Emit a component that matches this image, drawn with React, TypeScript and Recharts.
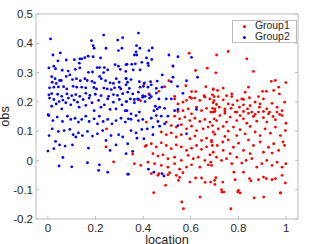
import { ScatterChart, Scatter, XAxis, YAxis, Legend } from 'recharts';

// Group1 (red) points, [location, obs]
const group1: [number, number][] = [
  [0.593, 0.366], [0.525, 0.321], [0.669, 0.315], [0.62, 0.307], [0.403, 0.261], [0.508, 0.272],
  [0.49, 0.252], [0.579, 0.255], [0.663, 0.252], [0.466, 0.236], [0.603, 0.235], [0.694, 0.244],
  [0.621, 0.235], [0.532, 0.219], [0.656, 0.221], [0.698, 0.218], [0.603, 0.212], [0.424, 0.227],
  [0.389, 0.204], [0.246, 0.108], [0.244, 0.046], [0.276, -0.005], [0.356, 0.022], [0.363, -0.011],
  [0.39, -0.017], [0.408, 0.048], [0.413, 0.131],
  // middle block
  [0.532, 0.21], [0.546, 0.193], [0.567, 0.199], [0.582, 0.205], [0.596, 0.216], [0.617, 0.213],
  [0.638, 0.205], [0.659, 0.216], [0.68, 0.21], [0.694, 0.197],
  [0.546, 0.167], [0.567, 0.17], [0.589, 0.176], [0.603, 0.159], [0.624, 0.182], [0.645, 0.17],
  [0.666, 0.178], [0.684, 0.165], [0.701, 0.176],
  [0.532, 0.151], [0.553, 0.142], [0.575, 0.148], [0.596, 0.136], [0.617, 0.144], [0.638, 0.133],
  [0.659, 0.14], [0.68, 0.131], [0.698, 0.142],
  [0.497, 0.131], [0.518, 0.119], [0.539, 0.114], [0.56, 0.122], [0.582, 0.108], [0.603, 0.117],
  [0.624, 0.102], [0.652, 0.108], [0.673, 0.114], [0.694, 0.097],
  [0.476, 0.097], [0.497, 0.088], [0.518, 0.094], [0.539, 0.08], [0.56, 0.088], [0.596, 0.074],
  [0.617, 0.083], [0.645, 0.068], [0.666, 0.076], [0.687, 0.063],
  [0.413, 0.051], [0.434, 0.057], [0.455, 0.046], [0.476, 0.06], [0.497, 0.051], [0.518, 0.04],
  [0.539, 0.053], [0.56, 0.046], [0.582, 0.034], [0.603, 0.042], [0.624, 0.051], [0.645, 0.038],
  [0.666, 0.046], [0.69, 0.051],
  [0.441, 0.023], [0.462, 0.015], [0.483, 0.019], [0.504, 0.006], [0.532, 0.011], [0.56, 0.0],
  [0.589, 0.017], [0.61, 0.006], [0.631, 0.011], [0.659, 0.0], [0.68, 0.019],
  [0.42, -0.006], [0.448, -0.011], [0.476, -0.017], [0.504, -0.023], [0.532, -0.011], [0.553, -0.03],
  [0.582, -0.023], [0.603, -0.015], [0.638, -0.023], [0.673, -0.015],
  [0.434, -0.045], [0.462, -0.051], [0.504, -0.049], [0.539, -0.051], [0.567, -0.042], [0.645, -0.06],
  [0.553, -0.058], [0.548, -0.068], [0.62, -0.06], [0.66, -0.075], [0.7, -0.068],
  // upper right
  [0.708, 0.36], [0.757, 0.372], [0.835, 0.347], [0.705, 0.299], [0.863, 0.304], [0.938, 0.27],
  [0.955, 0.273], [0.999, 0.266], [0.969, 0.25], [0.842, 0.25], [0.736, 0.247], [0.694, 0.242],
  [0.712, 0.239], [0.901, 0.236], [0.917, 0.236], [0.948, 0.239], [0.828, 0.233], [0.772, 0.227],
  [0.691, 0.224], [0.715, 0.218], [0.75, 0.221], [0.772, 0.218], [0.972, 0.227], [0.884, 0.218],
  [0.846, 0.214], [0.814, 0.21], [0.821, 0.208], [0.905, 0.21], [0.736, 0.207], [0.697, 0.204],
  [0.795, 0.204], [0.994, 0.199], [0.941, 0.195], [0.87, 0.199], [0.891, 0.193], [0.708, 0.191],
  [0.757, 0.193], [0.776, 0.19], [0.821, 0.19], [0.849, 0.187], [0.691, 0.178], [0.719, 0.182],
  [0.743, 0.176], [0.769, 0.178], [0.804, 0.182], [0.838, 0.176], [0.888, 0.182], [0.919, 0.176],
  [0.962, 0.182], [0.983, 0.17], [0.701, 0.167], [0.743, 0.167], [0.793, 0.165], [0.821, 0.167],
  [0.856, 0.165], [0.905, 0.167], [0.931, 0.165], [0.973, 0.157], [0.87, 0.157],
  // lower right
  [0.694, 0.165], [0.722, 0.153], [0.743, 0.161], [0.765, 0.148], [0.786, 0.165], [0.807, 0.153],
  [0.821, 0.142], [0.842, 0.161], [0.863, 0.15], [0.884, 0.165], [0.905, 0.146], [0.926, 0.159],
  [0.945, 0.15], [0.962, 0.165], [0.983, 0.153], [0.999, 0.127], [0.708, 0.136], [0.75, 0.131],
  [0.793, 0.136], [0.835, 0.127], [0.877, 0.134], [0.919, 0.131], [0.955, 0.139],
  [0.691, 0.119], [0.715, 0.108], [0.736, 0.116], [0.757, 0.1], [0.779, 0.114], [0.807, 0.105],
  [0.828, 0.091], [0.849, 0.116], [0.87, 0.097], [0.891, 0.085], [0.912, 0.108], [0.934, 0.093],
  [0.955, 0.114], [0.976, 0.085], [0.997, 0.102], [0.701, 0.089], [0.743, 0.082], [0.793, 0.085],
  [0.687, 0.068], [0.711, 0.051], [0.734, 0.063], [0.757, 0.07], [0.779, 0.045], [0.8, 0.059],
  [0.821, 0.034], [0.842, 0.07], [0.863, 0.051], [0.891, 0.063], [0.905, 0.028], [0.926, 0.045],
  [0.948, 0.057], [0.969, 0.034], [0.987, 0.063], [0.993, 0.051], [0.694, 0.028], [0.736, 0.034],
  [0.765, 0.023], [0.849, 0.023], [0.941, 0.025],
  [0.684, -0.006], [0.708, 0.011], [0.729, 0.0], [0.75, 0.006], [0.772, -0.011], [0.793, 0.011],
  [0.814, -0.009], [0.832, 0.0], [0.856, 0.006], [0.877, -0.023], [0.898, -0.011], [0.919, 0.0],
  [0.941, -0.017], [0.962, -0.006], [0.983, -0.023], [0.687, -0.017], [0.999, -0.011],
  [0.705, -0.059], [0.701, -0.082], [0.734, -0.074], [0.781, -0.04], [0.786, -0.066], [0.821, -0.04],
  [0.846, -0.062], [0.852, -0.07], [0.884, -0.066], [0.905, -0.057], [0.917, -0.062], [0.941, -0.066],
  [0.955, -0.062], [0.983, -0.051], [0.997, -0.077], [0.729, -0.1], [0.739, -0.108], [0.8, -0.102],
  [0.807, -0.111], [0.976, -0.111],
  // outliers
  [0.444, -0.11], [0.562, -0.142], [0.569, -0.165], [0.639, -0.125], [0.768, -0.165], [0.866, -0.128],
  [0.906, -0.125], [0.977, -0.111], [0.797, -0.108], [0.73, -0.108], [0.683, -0.074], [0.596, -0.074],
  [0.494, -0.085], [0.466, -0.045], [0.511, -0.042],
];

// Group2 (blue) points, [location, obs]
const group2: [number, number][] = [
  [0.011, 0.415], [0.234, 0.428], [0.183, 0.409], [0.19, 0.392], [0.194, 0.383], [0.293, 0.411],
  [0.314, 0.419], [0.244, 0.383], [0.296, 0.375], [0.311, 0.383], [0.021, 0.36], [0.052, 0.367],
  [0.042, 0.34], [0.077, 0.343], [0.111, 0.344], [0.134, 0.347], [0.142, 0.347], [0.155, 0.351],
  [0.169, 0.356], [0.19, 0.354], [0.221, 0.35], [0.004, 0.316], [0.025, 0.322], [0.032, 0.313],
  [0.06, 0.308], [0.085, 0.305], [0.115, 0.311], [0.132, 0.332], [0.134, 0.316], [0.17, 0.301],
  [0.187, 0.302], [0.207, 0.317], [0.217, 0.317], [0.237, 0.317], [0.251, 0.309], [0.234, 0.3],
  [0.282, 0.327], [0.296, 0.322], [0.304, 0.311], [0.328, 0.327], [0.016, 0.286], [0.03, 0.279],
  [0.018, 0.267], [0.035, 0.263], [0.049, 0.273], [0.056, 0.273], [0.077, 0.287], [0.092, 0.292],
  [0.103, 0.276], [0.12, 0.279], [0.136, 0.272], [0.155, 0.279], [0.165, 0.273], [0.185, 0.27],
  [0.196, 0.265], [0.217, 0.287], [0.224, 0.279], [0.242, 0.272], [0.261, 0.265], [0.275, 0.263],
  [0.287, 0.279], [0.299, 0.267], [0.328, 0.279], [0.334, 0.267], [0.007, 0.248], [0.025, 0.25],
  [0.044, 0.251], [0.066, 0.252], [0.079, 0.244], [0.106, 0.253], [0.121, 0.25], [0.142, 0.25],
  [0.159, 0.248], [0.193, 0.249], [0.204, 0.244], [0.235, 0.247], [0.249, 0.244], [0.266, 0.242],
  [0.28, 0.248], [0.3, 0.25], [0.306, 0.244], [0.004, 0.224], [0.016, 0.228], [0.041, 0.226],
  [0.058, 0.219], [0.08, 0.227], [0.1, 0.221], [0.117, 0.225], [0.134, 0.219], [0.159, 0.229],
  [0.176, 0.222], [0.199, 0.226], [0.223, 0.221], [0.255, 0.219], [0.275, 0.225], [0.292, 0.222],
  [0.314, 0.228],
  [0.007, 0.213], [0.025, 0.208], [0.016, 0.185], [0.035, 0.193], [0.047, 0.201], [0.063, 0.206],
  [0.075, 0.197], [0.058, 0.176], [0.086, 0.213], [0.096, 0.19], [0.11, 0.206], [0.124, 0.199],
  [0.131, 0.182], [0.148, 0.208], [0.159, 0.188], [0.173, 0.213], [0.185, 0.197], [0.194, 0.17],
  [0.213, 0.205], [0.223, 0.182], [0.237, 0.19], [0.251, 0.21], [0.261, 0.174], [0.275, 0.199],
  [0.286, 0.176], [0.3, 0.208], [0.311, 0.19], [0.325, 0.17], [0.331, 0.201],
  [0.001, 0.156], [0.021, 0.136], [0.039, 0.148], [0.061, 0.133], [0.082, 0.151], [0.096, 0.14],
  [0.114, 0.144], [0.128, 0.131], [0.142, 0.14], [0.159, 0.151], [0.173, 0.133], [0.194, 0.142],
  [0.208, 0.125], [0.216, 0.151], [0.232, 0.133], [0.251, 0.14], [0.269, 0.125], [0.286, 0.136],
  [0.307, 0.144], [0.325, 0.131],
  [0.018, 0.108], [0.044, 0.099], [0.068, 0.102], [0.092, 0.106], [0.106, 0.088], [0.117, 0.08],
  [0.128, 0.094], [0.145, 0.085], [0.166, 0.099], [0.187, 0.083], [0.208, 0.091], [0.23, 0.102],
  [0.265, 0.085], [0.297, 0.088], [0.314, 0.08], [0.244, 0.068],
  [0.032, 0.065], [0.025, 0.04], [0.049, 0.053], [0.072, 0.049], [0.103, 0.053], [0.17, 0.042],
  [0.261, 0.034], [0.286, 0.053], [0.335, 0.057],
  [0.063, 0.01], [0.047, -0.019], [0.1, -0.022], [0.166, -0.008], [0.216, -0.015], [0.213, -0.034],
  [0.251, -0.04], [0.335, -0.047], [0.0, 0.032], [0.005, 0.085], [0.004, 0.153],
  [0.38, 0.435], [0.372, 0.392], [0.386, 0.383], [0.37, 0.371], [0.438, 0.384], [0.424, 0.375],
  [0.373, 0.36], [0.363, 0.36], [0.414, 0.35], [0.436, 0.345], [0.332, 0.328], [0.352, 0.328],
  [0.367, 0.33], [0.394, 0.335], [0.42, 0.332], [0.422, 0.324], [0.358, 0.309], [0.327, 0.304],
  [0.387, 0.309], [0.508, 0.36], [0.546, 0.354], [0.603, 0.352], [0.525, 0.323], [0.48, 0.292],
  [0.525, 0.284], [0.328, 0.28], [0.349, 0.276], [0.384, 0.269], [0.405, 0.265], [0.431, 0.269],
  [0.459, 0.271], [0.518, 0.269], [0.582, 0.272], [0.628, 0.284], [0.328, 0.258], [0.342, 0.246],
  [0.387, 0.25], [0.401, 0.253], [0.42, 0.25], [0.434, 0.258], [0.455, 0.246], [0.479, 0.25],
  [0.544, 0.253], [0.335, 0.233], [0.356, 0.227], [0.38, 0.233], [0.398, 0.221], [0.408, 0.219],
  [0.427, 0.224], [0.434, 0.218], [0.455, 0.23], [0.497, 0.21], [0.466, 0.21], [0.518, 0.21],
  [0.567, 0.229], [0.377, 0.21], [0.363, 0.208],
  [0.328, 0.201], [0.346, 0.21], [0.363, 0.197], [0.38, 0.208], [0.398, 0.216], [0.408, 0.201],
  [0.427, 0.213], [0.451, 0.185], [0.459, 0.176], [0.469, 0.182], [0.49, 0.178], [0.445, 0.17],
  [0.332, 0.17], [0.349, 0.159], [0.37, 0.153], [0.384, 0.165], [0.398, 0.14], [0.38, 0.136],
  [0.349, 0.14], [0.338, 0.142], [0.434, 0.144], [0.455, 0.153], [0.476, 0.151], [0.504, 0.151],
  [0.532, 0.17], [0.546, 0.174], [0.349, 0.102], [0.37, 0.094], [0.394, 0.106], [0.417, 0.108],
  [0.441, 0.114], [0.469, 0.117], [0.49, 0.125], [0.462, 0.133], [0.374, 0.076], [0.403, 0.074],
  [0.441, 0.088], [0.546, 0.119], [0.582, 0.091], [0.624, 0.174], [0.328, 0.023], [0.356, 0.031],
  [0.338, -0.047], [0.422, -0.03], [0.445, -0.04], [0.479, -0.045], [0.487, -0.053],
];

const seriesNames = ['Group1', 'Group2'];
const seriesColors = ['#ff0000', '#0000ff'];
const xTicks = [0, 0.2, 0.4, 0.6, 0.8, 1];
const yTicks = [-0.2, -0.1, 0, 0.1, 0.2, 0.3, 0.4, 0.5];

const FONT = '"Liberation Sans", Arial, Helvetica, sans-serif';
const AXIS = '#bcbcbc';
const TEXT = '#262626';

const toPoints = (arr: [number, number][]) => arr.map(([x, y]) => ({ x, y }));

const Dot = (props: any) => <circle cx={props.cx} cy={props.cy} r={1.4} fill={props.fill} />;
const NoTick = () => <g />;

const ObsLabel = (props: any) => {
  const vb = props.viewBox || { x: 0, y: 0, width: 0, height: 0 };
  const cx = vb.x + 4;
  const cy = vb.y + vb.height / 2;
  return (
    <text
      x={cx}
      y={cy}
      transform={`rotate(-90 ${cx} ${cy})`}
      textAnchor="middle"
      dy="0.36em"
      fontSize={12.7}
      fontFamily={FONT}
      fill={TEXT}
    >
      obs
    </text>
  );
};

const LegendBox = () => (
  <div
    style={{
      boxSizing: 'border-box',
      width: 65,
      height: 23,
      border: `1px solid ${AXIS}`,
      background: '#fff',
      fontFamily: FONT,
      fontSize: 10.4,
      color: TEXT,
    }}
  >
    {seriesNames.map((name, i) => (
      <div key={name} style={{ position: 'relative', height: 10.5, lineHeight: '10.5px' }}>
        <span
          style={{
            position: 'absolute',
            left: 9.5,
            top: 4,
            width: 3,
            height: 3,
            borderRadius: '50%',
            background: seriesColors[i],
          }}
        />
        <span style={{ position: 'absolute', left: 22, top: 0 }}>{name}</span>
      </div>
    ))}
  </div>
);

export default function App() {
  const tickStyle = { fill: TEXT, fontSize: 11.5, fontFamily: FONT };
  return (
    <div style={{ position: 'absolute', left: 0, top: 0, background: '#fff' }}>
      <ScatterChart width={323} height={244} margin={{ top: 13, right: 24, bottom: 0, left: 0 }}>
        <XAxis
          type="number"
          dataKey="x"
          domain={[-0.05, 1.05]}
          ticks={xTicks}
          allowDataOverflow
          height={25}
          tickSize={-3}
          tickMargin={8}
          tick={tickStyle}
          axisLine={{ stroke: AXIS }}
          tickLine={{ stroke: AXIS }}
          label={{ value: 'location', position: 'insideBottom', offset: 0, fontSize: 12.7, fontFamily: FONT, fill: TEXT }}
        />
        <XAxis
          xAxisId="top"
          orientation="top"
          type="number"
          domain={[-0.05, 1.05]}
          ticks={xTicks}
          allowDataOverflow
          height={1}
          tickSize={-3}
          tick={NoTick}
          axisLine={{ stroke: AXIS }}
          tickLine={{ stroke: AXIS }}
        />
        <YAxis
          type="number"
          dataKey="y"
          domain={[-0.2, 0.5]}
          ticks={yTicks}
          allowDataOverflow
          width={36}
          tickSize={-3}
          tickMargin={6}
          tick={tickStyle}
          axisLine={{ stroke: AXIS }}
          tickLine={{ stroke: AXIS }}
          label={<ObsLabel />}
        />
        <YAxis
          yAxisId="right"
          orientation="right"
          type="number"
          domain={[-0.2, 0.5]}
          ticks={yTicks}
          allowDataOverflow
          width={1}
          tickSize={-3}
          tick={NoTick}
          axisLine={{ stroke: AXIS }}
          tickLine={{ stroke: AXIS }}
        />
        <Legend
          layout="vertical"
          align="center"
          verticalAlign="middle"
          wrapperStyle={{ left: 232, top: 20, width: 65, height: 23 }}
          content={<LegendBox />}
        />
        <Scatter
          name={seriesNames[0]}
          data={toPoints(group1)}
          fill={seriesColors[0]}
          shape={Dot}
          isAnimationActive={false}
        />
        <Scatter
          name={seriesNames[1]}
          data={toPoints(group2)}
          fill={seriesColors[1]}
          shape={Dot}
          isAnimationActive={false}
        />
      </ScatterChart>
    </div>
  );
}
